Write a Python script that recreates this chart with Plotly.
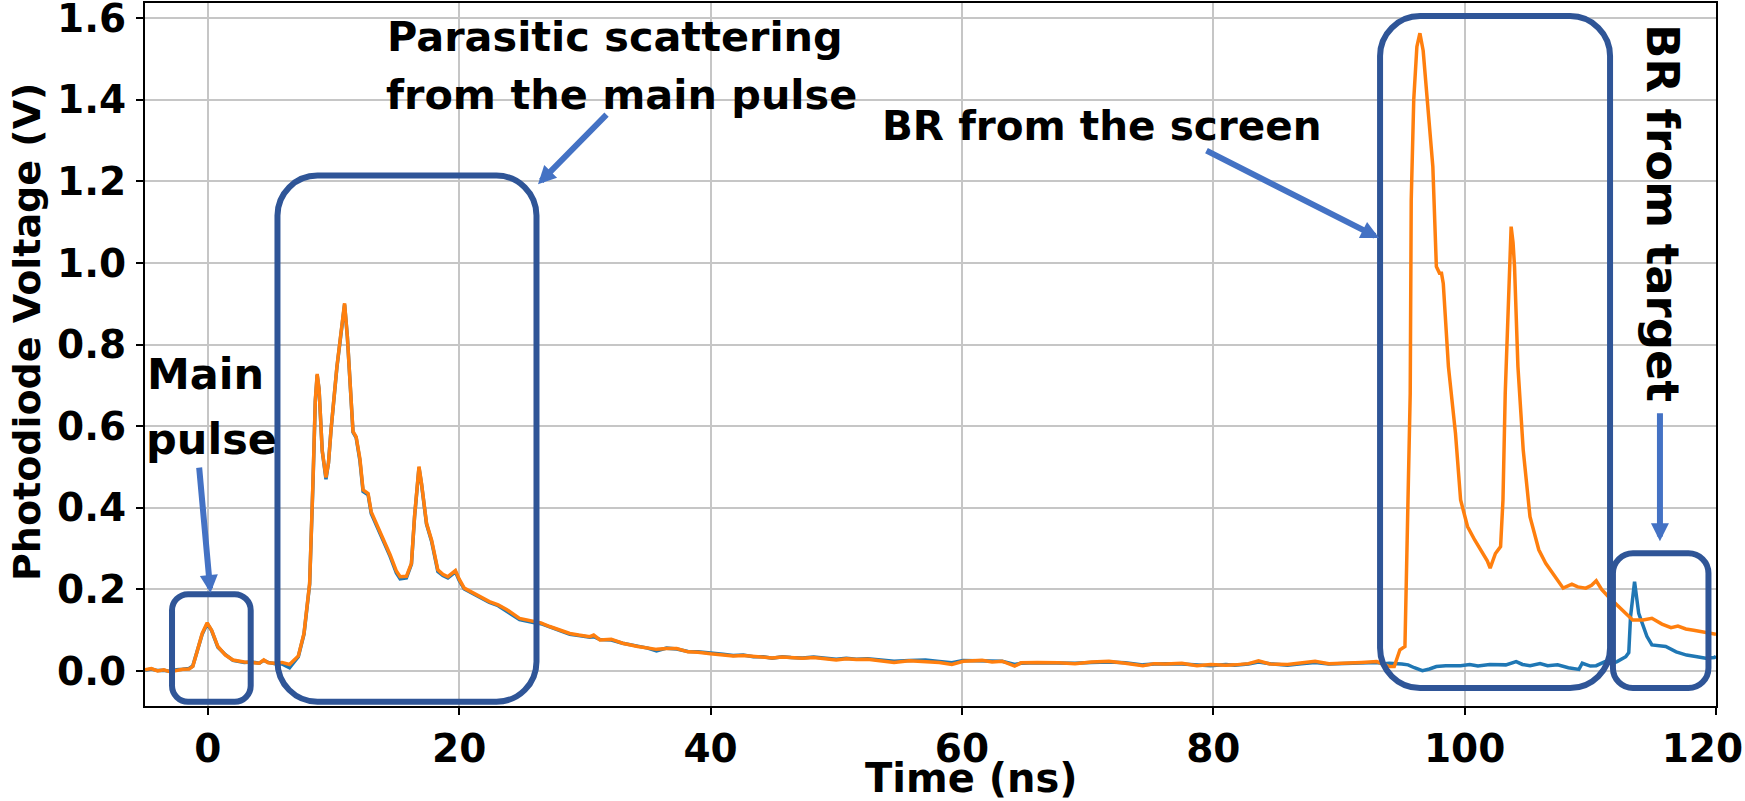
import plotly.graph_objects as go

# ---------------- data ----------------
orange_t = [-5.0, -4.5, -4.0, -3.5, -3.0, -2.5, -2.0, -1.5, -1.2, -0.9, -0.45, -0.05, 0.3, 0.8, 1.4, 2.0, 2.5, 2.9,
            3.5, 4.1, 4.45, 4.8, 5.35, 5.9, 6.5, 7.0, 7.2, 7.65, 8.1, 8.36, 8.55, 8.7, 8.85, 9.1, 9.4, 9.6, 9.8,
            10.27, 10.6, 10.88, 11.1, 11.3, 11.55, 11.8, 12.1, 12.35, 12.75, 13.0, 13.3, 13.9, 14.5, 15.0, 15.3,
            15.8, 16.2, 16.45, 16.8, 17.0, 17.4, 17.8, 18.3, 18.7, 19.1, 19.7, 20.0, 20.4, 21.4, 22.4, 23.1, 23.8,
            24.8, 25.9, 26.5, 27.2, 28.0, 28.8, 29.5, 30.4, 30.7, 31.2, 32.1, 33.0, 34.2, 35.0, 35.7, 36.5, 37.3,
            38.2, 39.0, 40.0, 41.0, 41.8, 42.6, 43.4, 44.2, 44.9, 45.7, 46.4, 47.3, 48.2, 49.1, 50.0, 50.8, 51.6,
            52.5, 53.5, 54.6, 55.8, 57.1, 58.2, 59.2, 60.1, 61.6, 62.4, 63.2, 64.2, 64.7, 66.0, 67.7, 69.0, 70.3,
            71.7, 73.0, 74.4, 75.3, 76.2, 77.5, 78.7, 79.8, 81.0, 81.7, 82.8, 83.6, 84.5, 85.9, 87.0, 88.1, 89.2,
            90.6, 91.8, 93.0, 93.6, 94.0, 94.4, 94.85, 95.25, 95.5, 95.67, 95.75, 95.95, 96.2, 96.44, 96.7, 96.92,
            97.2, 97.47, 97.75, 98.0, 98.16, 98.3, 98.71, 99.0, 99.27, 99.68, 100.23, 100.8, 101.5, 101.8, 102.03,
            102.45, 102.86, 103.05, 103.23, 103.4, 103.55, 103.7, 103.85, 103.97, 104.24, 104.4, 104.66, 105.2,
            105.9, 106.45, 107.2, 107.84, 108.53, 109.0, 109.64, 110.1, 110.47, 110.9, 111.44, 112.0, 112.55,
            113.0, 113.37, 114.2, 114.9, 115.7, 116.42, 116.97, 117.6, 118.22, 119.0, 119.87, 120.0]
orange_v = [0.003, 0.006, 0.000, 0.003, -0.002, 0.002, 0.004, 0.005, 0.011, 0.043, 0.092, 0.118, 0.100, 0.060, 0.039,
            0.027, 0.024, 0.022, 0.021, 0.019, 0.027, 0.020, 0.019, 0.021, 0.016, 0.030, 0.037, 0.092, 0.215, 0.46,
            0.664, 0.728, 0.69, 0.54, 0.474, 0.51, 0.59, 0.746, 0.84, 0.901, 0.82, 0.705, 0.587, 0.574, 0.52, 0.444,
            0.435, 0.39, 0.370, 0.329, 0.285, 0.245, 0.231, 0.232, 0.264, 0.38, 0.501, 0.46, 0.362, 0.321, 0.248,
            0.237, 0.231, 0.246, 0.225, 0.203, 0.186, 0.170, 0.162, 0.150, 0.129, 0.121, 0.118, 0.109, 0.101, 0.092,
            0.088, 0.084, 0.088, 0.076, 0.078, 0.068, 0.060, 0.057, 0.053, 0.055, 0.055, 0.047, 0.046, 0.042, 0.040,
            0.037, 0.038, 0.036, 0.034, 0.032, 0.034, 0.033, 0.031, 0.033, 0.030, 0.027, 0.030, 0.028, 0.029, 0.025,
            0.021, 0.025, 0.024, 0.021, 0.016, 0.024, 0.026, 0.022, 0.024, 0.012, 0.020, 0.021, 0.020, 0.018, 0.022,
            0.024, 0.019, 0.013, 0.018, 0.017, 0.019, 0.013, 0.016, 0.014, 0.015, 0.018, 0.025, 0.017, 0.016, 0.019,
            0.024, 0.018, 0.019, 0.021, 0.023, 0.016, 0.011, 0.011, 0.052, 0.060, 0.42, 0.68, 1.154, 1.40, 1.53,
            1.563, 1.52, 1.44, 1.33, 1.236, 0.991, 0.975, 0.975, 0.95, 0.746, 0.67, 0.583, 0.419, 0.354, 0.321,
            0.288, 0.27, 0.252, 0.288, 0.305, 0.419, 0.68, 0.827, 1.0, 1.089, 1.05, 0.991, 0.746, 0.67, 0.542,
            0.378, 0.297, 0.264, 0.230, 0.203, 0.213, 0.206, 0.203, 0.210, 0.221, 0.200, 0.182, 0.165, 0.150,
            0.135, 0.125, 0.125, 0.129, 0.115, 0.106, 0.110, 0.103, 0.100, 0.096, 0.091, 0.090]

blue_t = [-5.0, -4.5, -4.0, -3.5, -3.0, -2.5, -2.0, -1.5, -1.2, -0.9, -0.45, -0.05, 0.3, 0.8, 1.4, 2.0, 2.5, 2.9,
          3.5, 4.1, 4.45, 4.8, 5.35, 5.9, 6.5, 7.0, 7.2, 7.65, 8.1, 8.36, 8.55, 8.7, 8.85, 9.1, 9.4, 9.6, 9.8,
          10.27, 10.6, 10.88, 11.1, 11.3, 11.55, 11.8, 12.1, 12.35, 12.75, 13.0, 13.3, 13.9, 14.5, 15.0, 15.3,
          15.8, 16.2, 16.45, 16.8, 17.0, 17.4, 17.8, 18.3, 18.7, 19.1, 19.7, 20.0, 20.4, 21.4, 22.4, 23.1, 23.8,
          24.8, 25.9, 26.5, 27.2, 28.0, 28.8, 29.5, 30.4, 30.7, 31.2, 32.1, 33.0, 34.2, 35.0, 35.7, 36.5, 37.3,
          38.2, 39.0, 40.0, 41.0, 41.8, 42.6, 43.4, 44.2, 44.9, 45.7, 46.4, 47.3, 48.2, 49.1, 50.0, 50.8, 51.6,
          52.5, 53.5, 54.6, 55.8, 57.1, 58.2, 59.2, 60.1, 61.6, 62.4, 63.2, 64.2, 64.7, 66.0, 67.7, 69.0, 70.3,
          71.7, 73.0, 74.4, 75.3, 76.2, 77.5, 78.7, 79.8, 81.0, 81.7, 82.8, 83.6, 84.5, 85.9, 87.0, 88.1, 89.2,
          90.6, 91.8, 93.0, 93.6, 94.0, 95.0, 95.5, 96.0, 96.64, 97.2, 97.75, 98.5, 99.68, 100.4, 101.06, 102.0,
          103.28, 104.1, 104.6, 105.21, 106.0, 106.6, 107.4, 108.25, 109.09, 109.36, 110.0, 110.47, 111.17,
          111.7, 112.13, 112.82, 113.06, 113.2, 113.52, 113.85, 114.2, 114.5, 114.9, 115.5, 116.0, 116.83,
          117.66, 118.5, 119.18, 119.87, 120.0]
blue_v = [0.002, 0.005, 0.001, 0.002, -0.001, 0.003, 0.004, 0.006, 0.012, 0.044, 0.090, 0.116, 0.099, 0.058, 0.040,
          0.026, 0.024, 0.021, 0.022, 0.019, 0.026, 0.021, 0.018, 0.017, 0.008, 0.027, 0.035, 0.090, 0.212, 0.455,
          0.66, 0.725, 0.69, 0.54, 0.47, 0.51, 0.59, 0.744, 0.838, 0.898, 0.82, 0.70, 0.585, 0.572, 0.515, 0.44,
          0.432, 0.386, 0.366, 0.325, 0.281, 0.240, 0.226, 0.228, 0.262, 0.378, 0.498, 0.458, 0.36, 0.318, 0.244,
          0.234, 0.228, 0.243, 0.222, 0.201, 0.184, 0.168, 0.160, 0.147, 0.126, 0.119, 0.116, 0.108, 0.100, 0.090,
          0.087, 0.083, 0.084, 0.077, 0.076, 0.068, 0.061, 0.056, 0.049, 0.056, 0.054, 0.048, 0.047, 0.043, 0.041,
          0.038, 0.039, 0.035, 0.035, 0.031, 0.035, 0.033, 0.032, 0.034, 0.031, 0.029, 0.031, 0.029, 0.030, 0.027,
          0.024, 0.026, 0.027, 0.023, 0.020, 0.026, 0.025, 0.023, 0.024, 0.016, 0.019, 0.020, 0.019, 0.019, 0.021,
          0.022, 0.020, 0.015, 0.017, 0.018, 0.017, 0.015, 0.013, 0.016, 0.014, 0.017, 0.022, 0.018, 0.014, 0.018,
          0.021, 0.017, 0.018, 0.020, 0.021, 0.018, 0.019, 0.017, 0.015, 0.008, 0.001, 0.005, 0.011, 0.013, 0.013,
          0.016, 0.012, 0.016, 0.015, 0.023, 0.016, 0.013, 0.018, 0.013, 0.015, 0.008, 0.004, 0.019, 0.012, 0.013,
          0.023, 0.018, 0.023, 0.035, 0.045, 0.133, 0.219, 0.141, 0.109, 0.085, 0.064, 0.062, 0.060, 0.047, 0.039,
          0.035, 0.031, 0.033, 0.036]

x_tick_vals = [0, 20, 40, 60, 80, 100, 120]
# the last label sits flush with the right page edge in the reference
x_tick_text = ["0", "20", "40", "60", "80", "100", "120\u00a0\u00a0"]
y_tick_vals = [0.0, 0.2, 0.4, 0.6, 0.8, 1.0, 1.2, 1.4, 1.6]
y_tick_text = ["0.0", "0.2", "0.4", "0.6", "0.8", "1.0", "1.2", "1.4", "1.6"]

x_title = "Time (ns)"
y_title = "Photodiode Voltage (V)"

# ---------------- layout constants ----------------
W, H = 1745, 801
ML, MR, MT, MB = 145, 29, 3, 95
X_MIN, X_MAX = -5, 120
Y_MIN, Y_MAX = -0.0858, 1.637
PX_NS = (W - ML - MR) / (X_MAX - X_MIN)
PX_V = (H - MT - MB) / (Y_MAX - Y_MIN)

FONT = "DejaVu Sans"
BOX_COLOR = "#2F5597"
ARROW_COLOR = "#4472C4"


def rounded_box(x0, x1, y0, y1, r):
    rx, ry, k = r / PX_NS, r / PX_V, 0.5523
    return (f"M {x0 + rx},{y1} L {x1 - rx},{y1} "
            f"C {x1 - rx + k * rx},{y1} {x1},{y1 - ry + k * ry} {x1},{y1 - ry} "
            f"L {x1},{y0 + ry} "
            f"C {x1},{y0 + ry - k * ry} {x1 - rx + k * rx},{y0} {x1 - rx},{y0} "
            f"L {x0 + rx},{y0} "
            f"C {x0 + rx - k * rx},{y0} {x0},{y0 + ry - k * ry} {x0},{y0 + ry} "
            f"L {x0},{y1 - ry} "
            f"C {x0},{y1 - ry + k * ry} {x0 + rx - k * rx},{y1} {x0 + rx},{y1} Z")


fig = go.Figure()
fig.add_trace(go.Scatter(x=blue_t, y=blue_v, mode="lines",
                         line=dict(color="#1f77b4", width=3.5), showlegend=False))
fig.add_trace(go.Scatter(x=orange_t, y=orange_v, mode="lines",
                         line=dict(color="#ff7f0e", width=3.5), showlegend=False))

boxes = [(-2.85, 3.41, -0.0753, 0.188, 16),
         (5.54, 26.15, -0.0753, 1.214, 40),
         (93.27, 111.57, -0.0417, 1.605, 40),
         (111.80, 119.40, -0.0417, 0.2884, 20)]
for (x0, x1, y0, y1, r) in boxes:
    fig.add_shape(type="path", path=rounded_box(x0, x1, y0, y1, r), xref="x", yref="y",
                  line=dict(color=BOX_COLOR, width=6), layer="above")

arrows = [((26.27, 1.193), (31.84, 1.367)),
          ((0.21, 0.191), (-0.70, 0.502)),
          ((93.19, 1.061), (79.34, 1.277)),
          ((115.54, 0.318), (115.54, 0.635))]
for (hx, hy), (tx, ty) in arrows:
    fig.add_annotation(x=hx, y=hy, ax=tx, ay=ty, xref="x", yref="y", axref="x", ayref="y",
                       text="", showarrow=True, arrowhead=2, arrowsize=0.6, arrowwidth=6,
                       arrowcolor=ARROW_COLOR, standoff=0)

texts = [("Parasitic scattering", 0.1528, 0.9523, 41.4),
         ("from the main pulse", 0.1522, 0.8698, 41.4),
         ("Main", 0.0, 0.4727, 43),
         ("pulse", -0.0006, 0.3798, 43),
         ("BR from the screen", 0.4679, 0.8257, 40.5)]
for (txt, x, y, size) in texts:
    fig.add_annotation(x=x, y=y, xref="paper", yref="paper", text=txt, showarrow=False,
                       xanchor="left", yanchor="middle",
                       font=dict(family=FONT, size=size, color="black", weight="bold"))

fig.add_annotation(x=0.9656, y=0.7015, xref="paper", yref="paper", text="BR from target",
                   showarrow=False, textangle=90, xanchor="center", yanchor="middle",
                   font=dict(family=FONT, size=45, color="black", weight="bold"))

fig.add_annotation(x=-0.0751, y=0.532, xref="paper", yref="paper", text=y_title,
                   showarrow=False, textangle=-90, xanchor="center", yanchor="middle",
                   font=dict(family=FONT, size=38, color="black", weight="bold"))
fig.add_annotation(x=0.5258, y=-0.1027, xref="paper", yref="paper", text=x_title,
                   showarrow=False, xanchor="center", yanchor="middle",
                   font=dict(family=FONT, size=40, color="black", weight="bold"))

axis_common = dict(showline=True, linecolor="black", linewidth=2, mirror=True,
                   showgrid=True, gridcolor="#c6c6c6", gridwidth=2,
                   ticks="outside", ticklen=7, tickwidth=2, tickcolor="black",
                   zeroline=False, ticklabeloverflow="allow", automargin=False,
                   tickfont=dict(family=FONT, size=39, color="black", weight="bold"))

fig.update_xaxes(range=[X_MIN, X_MAX], tickmode="array", tickvals=x_tick_vals, ticktext=x_tick_text,
                 ticklabelstandoff=0, **axis_common)
fig.update_yaxes(range=[Y_MIN, Y_MAX], tickmode="array", tickvals=y_tick_vals, ticktext=y_tick_text,
                 ticklabelstandoff=2, **axis_common)

fig.update_layout(width=W, height=H, autosize=False,
                  margin=dict(l=ML, r=MR, t=MT, b=MB, pad=0, autoexpand=False),
                  paper_bgcolor="white", plot_bgcolor="white", showlegend=False)

fig.write_html("out.html")
